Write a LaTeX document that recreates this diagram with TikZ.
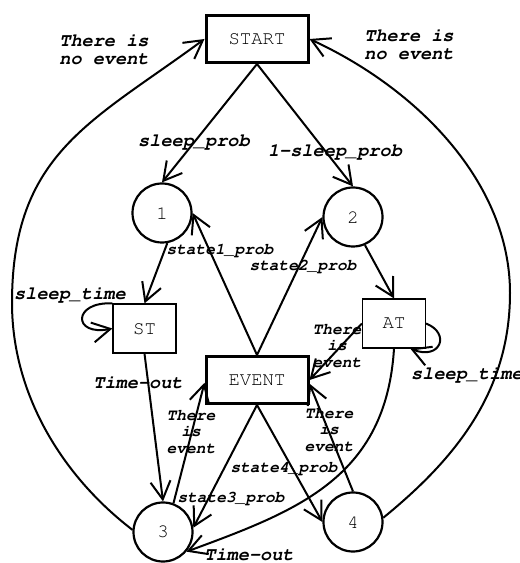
\documentclass[tikz,border=0pt]{standalone}
\usepackage[T1]{fontenc}
\usepackage{courier}
\usetikzlibrary{arrows.meta,positioning}

\begin{document}
\begin{tikzpicture}[
x=0.5pt,y=0.5pt,
BigBox/.style={draw,line width=1.5pt,minimum width=51pt,minimum height=23.5pt,font=\ttfamily\fontsize{9.5}{11}\selectfont},
SmallBox/.style={draw,line width=0.6pt,minimum width=31.5pt,minimum height=24.5pt,font=\ttfamily\fontsize{9.5}{11}\selectfont},
State/.style={circle,draw,line width=1.1pt,minimum size=29.5pt,inner sep=0pt,font=\ttfamily\fontsize{9.5}{11}\selectfont},
Edge/.style={-{Straight Barb[length=9pt,width=10pt]},line width=1pt},
BigLabel/.style={font=\ttfamily\bfseries\slshape\fontsize{9.3}{9}\selectfont,align=center,inner sep=0pt},
SmallLabel/.style={font=\ttfamily\bfseries\slshape\fontsize{8.1}{8.25}\selectfont,align=center,inner sep=0pt}
]
%\draw[gray!30] (0,0) grid[step=20] (520,563);
\useasboundingbox (0,0) rectangle (520,563);

% boxes and states
\node[BigBox] (start) at (257,524) {START};
\node[BigBox] (event) at (257,183) {EVENT};
\node[SmallBox] (st) at (144.5,234.5) {ST};
\node[SmallBox] (at) at (394,239.5) {AT};
\node[State] (s1) at (162,350) {1};
\node[State] (s2) at (353,346) {2};
\node[State] (s3) at (163,31) {3};
\node[State] (s4) at (353,41) {4};

% straight transitions
\draw[Edge] (start.south) -- (s1.north);
\draw[Edge] (start.south) -- (s2.north);
\draw[Edge] (s1.-80) -- (st.north);
\draw[Edge] (s2.-67) -- (at.north);
\draw[Edge] (st.south) -- (s3.north);
\draw[Edge] (s3.70) -- (event.183);
\draw[Edge] (event.south) -- (s3.8);
\draw[Edge] (event.south) -- (s4.west);
\draw[Edge] (s4.north) -- (event.-4);
\draw[Edge] (at.west) -- (event.east);
\draw[Edge] (event.north) -- (s1.east);
\draw[Edge] (event.north) -- (s2.west);

% self loops
\draw[Edge] (st.north west) .. controls +(-40,2) and +(-40,-8) .. (st.west);
\draw[Edge] (at.east) .. controls +(25,-10) and +(30,-12) .. (at.-57);

% long curves
\draw[Edge] (s3.176) .. controls (61,88) and (12,170) .. (12,260)
  .. controls (12,410) and (92,441) .. (start.west);
\draw[Edge] (s4.8) .. controls (454,103) and (510,170) .. (510,270)
  .. controls (510,380) and (418,474) .. (start.east);
\draw[Edge] (at.south) .. controls (386,85) and (297,52) .. (s3.-40);

% labels
\node[BigLabel] (noevl) at (104,514) {There is\\no event};
\node[BigLabel] (noevr) at (409,519) {There is\\no event};
\node[BigLabel] (sprob) at (194,421) {sleep\_prob};
\node[BigLabel] (nsprob) at (335,411) {1-sleep\_prob};
\node[BigLabel] (stimel) at (70,268) {sleep\_time};
\node[BigLabel] (stimer) at (467,188) {sleep\_time};
\node[BigLabel] (toutl) at (138,181) {Time-out};
\node[BigLabel] (toutb) at (249,9) {Time-out};
\node[SmallLabel] (p1) at (220,313) {state1\_prob};
\node[SmallLabel] (p2) at (303,297) {state2\_prob};
\node[SmallLabel] (p3) at (231,65) {state3\_prob};
\node[SmallLabel] (p4) at (284,95) {state4\_prob};
\node[SmallLabel] (evat) at (337,217) {There\\is\\event};
\node[SmallLabel] (evs3) at (191,131) {There\\is\\event};
\node[SmallLabel] (evs4) at (329,133) {There\\is\\event};

\end{tikzpicture}
\end{document}
